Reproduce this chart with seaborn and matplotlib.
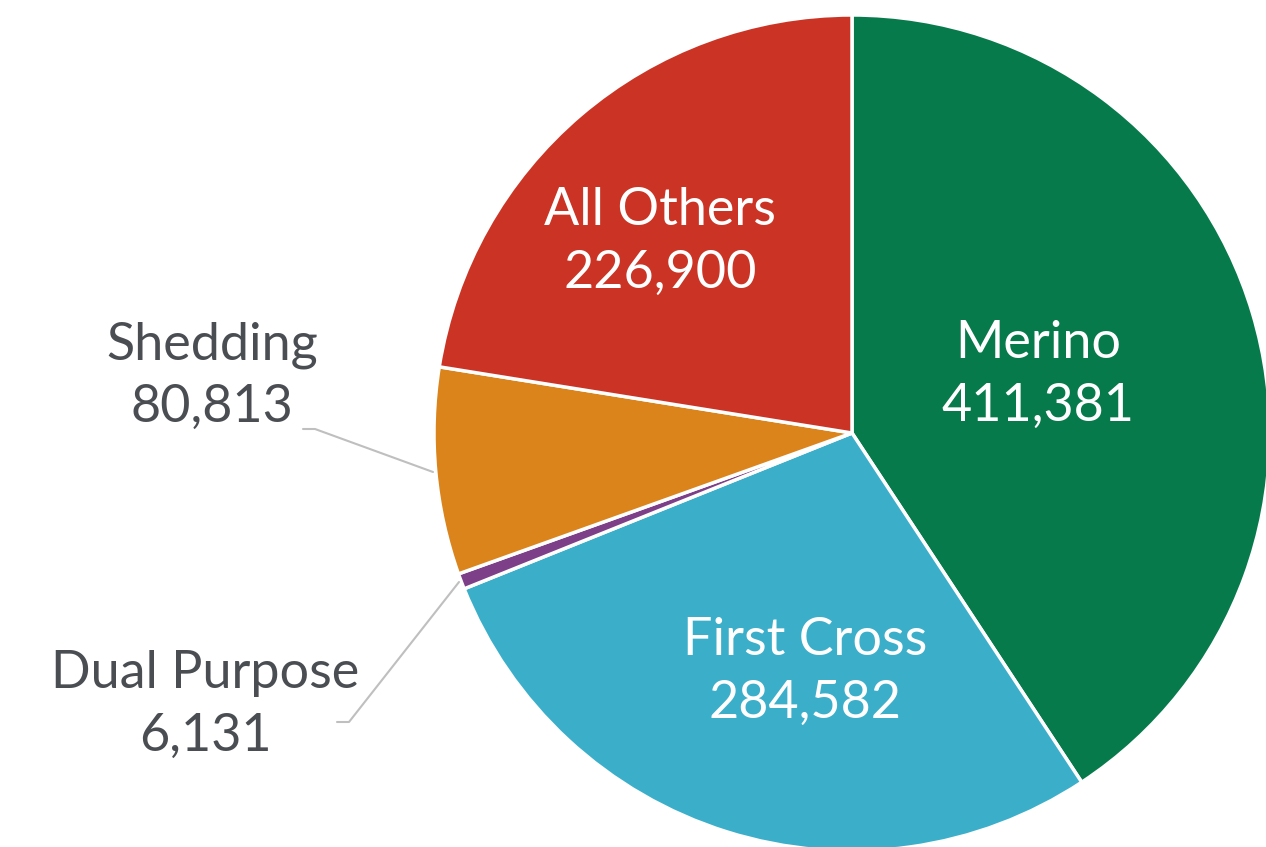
import matplotlib
matplotlib.use("Agg")
import matplotlib.pyplot as plt
import seaborn as sns

breeds = ["Merino", "First Cross", "Dual Purpose", "Shedding", "All Others"]
counts = [411381, 284582, 6131, 80813, 226900]
colors = ["#077A4B", "#3BAFCA", "#7C3F88", "#DB841C", "#CB3424"]

sns.set_theme(style="white")
plt.rcParams['font.family'] = ['Lato', 'DejaVu Sans']

W, H = 1266, 847
fig = plt.figure(figsize=(W / 100, H / 100), dpi=100)
ax = fig.add_axes([0, 0, 1, 1])

cx, cy, r = 852, H - 433, 418
ax.pie(counts, colors=colors, startangle=90, counterclock=False,
       center=(cx, cy), radius=r, frame=True,
       wedgeprops=dict(edgecolor="white", linewidth=2.5))
ax.set_xlim(0, W)
ax.set_ylim(0, H)
ax.set_aspect("equal")
ax.axis("off")

fs = 37.5
inside = {"Merino": (1038, 375), "First Cross": (805, 672), "All Others": (660, 242)}
outside = {"Shedding": (212, 376), "Dual Purpose": (205, 705)}
for name, val in zip(breeds, counts):
    txt = f"{name}\n{val:,}"
    if name in inside:
        x, y = inside[name]
        ax.text(x, H - y, txt, ha="center", va="center", color="white",
                fontsize=fs, linespacing=1.4)
    else:
        x, y = outside[name]
        ax.text(x, H - y, txt, ha="center", va="center", color="#4A4D52",
                fontsize=fs, linespacing=1.4)

# leader lines
ax.plot([303, 315, 433], [H - 429, H - 429, H - 472], color="#BFBFBF", lw=1.5)
ax.plot([337, 349, 459], [H - 722, H - 722, H - 582], color="#BFBFBF", lw=1.5)

fig.savefig("out.png", dpi=100)
